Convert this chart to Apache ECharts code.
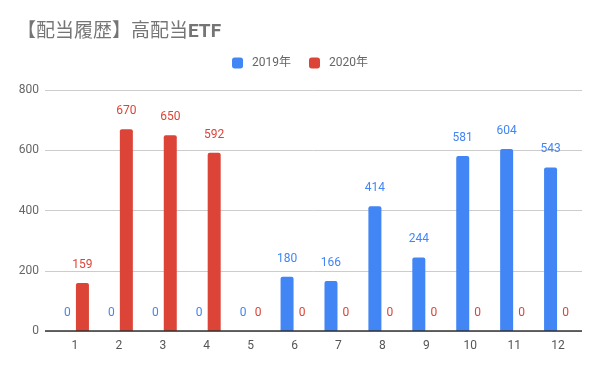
<!DOCTYPE html>
<html><head><meta charset="utf-8">
<script src="https://cdn.jsdelivr.net/npm/echarts@6/dist/echarts.min.js"></script>
<style>html,body{margin:0;padding:0;background:#fff}#c{width:600px;height:371px}</style>
</head><body><div id="c"></div>
<script>
const categories = ['1','2','3','4','5','6','7','8','9','10','11','12'];
const s2019 = [0,0,0,0,0,180,166,414,244,581,604,543];
const s2020 = [159,670,650,592,0,0,0,0,0,0,0,0];
const seriesNames = ['2019年','2020年'];
const yTicks = [0,200,400,600,800];

const font = 'Roboto, "Noto Sans CJK JP", sans-serif';
const chart = echarts.init(document.getElementById('c'));
chart.setOption({
  animation:false,
  title:{text:'{a|【配当履歴】高配当}{b|ETF}',left:12,top:18,
    textStyle:{fontFamily:font,fontSize:19,color:'#757575',
      rich:{a:{fontFamily:font,fontSize:19,fontWeight:'normal',color:'#757575'},
            b:{fontFamily:font,fontSize:19,fontWeight:'bold',color:'#757575'}}}},
  legend:{top:52,left:'center',itemWidth:11,itemHeight:11,itemGap:18,icon:'roundRect',
    textStyle:{fontFamily:font,fontSize:12,color:'#666',padding:[0,0,0,4]},data:seriesNames},
  grid:[{left:45,right:18,top:90,bottom:40},{left:53,right:20,top:90,bottom:40}],
  xAxis:[
    {gridIndex:0,type:'category',data:categories,show:false},
    {gridIndex:1,type:'category',data:categories,axisTick:{show:false},
     axisLine:{show:false},
     axisLabel:{fontFamily:font,fontSize:12,color:'#555',margin:9}}
  ],
  yAxis:[
    {gridIndex:0,type:'value',min:yTicks[0],max:yTicks[yTicks.length-1],interval:200,
     axisLabel:{fontFamily:font,fontSize:12,color:'#666',margin:6},
     splitLine:{lineStyle:{color:'#cccccc'}},axisLine:{show:false},axisTick:{show:false}},
    {gridIndex:1,type:'value',min:yTicks[0],max:yTicks[yTicks.length-1],interval:200,show:false,splitLine:{show:false}}
  ],
  series:[
    {type:'line',xAxisIndex:0,yAxisIndex:0,data:[],silent:true,
     markLine:{symbol:'none',silent:true,label:{show:false},lineStyle:{color:'#333',width:1.5,type:'solid'},data:[{yAxis:0}]}},
    {name:seriesNames[0],type:'bar',xAxisIndex:1,yAxisIndex:1,data:s2019,barWidth:13,barGap:'15%',
     itemStyle:{color:'#4285f4',borderRadius:[2,2,0,0]},
     label:{show:true,position:'top',distance:12,color:'#4285f4',fontFamily:font,fontSize:12}},
    {name:seriesNames[1],type:'bar',xAxisIndex:1,yAxisIndex:1,data:s2020,barWidth:13,
     itemStyle:{color:'#db4437',borderRadius:[2,2,0,0]},
     label:{show:true,position:'top',distance:12,color:'#db4437',fontFamily:font,fontSize:12}}
  ]
});
</script></body></html>
